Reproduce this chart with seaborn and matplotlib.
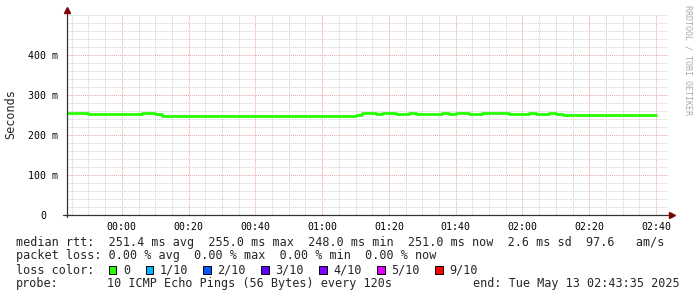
import numpy as np
import pandas as pd
import matplotlib
matplotlib.use("Agg")
import matplotlib.pyplot as plt
import seaborn as sns
from matplotlib.patches import Rectangle
from matplotlib.ticker import MultipleLocator, FixedLocator
from matplotlib.transforms import ScaledTranslation

# ---- data (minutes relative to 00:00, median rtt in ms) ----
step_start_min = [-16, -12, -10, 6, 10, 12, 70, 72, 76, 78, 82, 86, 88, 96, 98,
                  100, 104, 108, 116, 122, 124, 128, 130, 132, 160]
median_rtt_ms = [254, 255, 253, 255, 252, 248, 251, 254, 252.5, 254, 252.5, 254,
                 252.5, 254, 252.5, 254, 252.5, 254, 252.5, 254, 252.5, 254, 252.5,
                 251, 251]
x_tick_min = [0, 20, 40, 60, 80, 100, 120, 140, 160]
x_tick_labels = ["00:00", "00:20", "00:40", "01:00", "01:20", "01:40", "02:00", "02:20", "02:40"]
y_tick_ms = [0, 100, 200, 300, 400]
y_tick_labels = ["0", "100 m", "200 m", "300 m", "400 m"]
x_range = [-16.417, 163.583]
y_range = [0, 500]

loss_labels = ["0", "1/10", "2/10", "3/10", "4/10", "5/10", "9/10"]
loss_colors = ["#26ff00", "#00b8ff", "#0059ff", "#5e00ff", "#7e00ff", "#dd00ff", "#ff0000"]

line1 = "median rtt:  251.4 ms avg  255.0 ms max  248.0 ms min  251.0 ms now  2.6 ms sd  97.6   am/s"
line2 = "packet loss: 0.00 % avg  0.00 % max  0.00 % min  0.00 % now"
probe_text = "10 ICMP Echo Pings (56 Bytes) every 120s"
end_text = "end: Tue May 13 02:43:35 2025"

sns.set_style("white")
plt.rcParams['font.family'] = ['DejaVu Sans Mono', 'DejaVu Sans']

W, H = 697, 297
fig = plt.figure(figsize=(W / 100, H / 100), dpi=100)
ax = fig.add_axes([67 / W, 82 / H, 601 / W, 200 / H])

df = pd.DataFrame({"t": step_start_min, "rtt": median_rtt_ms})
sns.lineplot(data=df, x="t", y="rtt", ax=ax, drawstyle="steps-post",
             color="#26ff00", linewidth=2.0, legend=False, zorder=5)

ax.set_xlim(*x_range)
ax.set_ylim(*y_range)
ax.set_xlabel("")
ax.set_ylabel("")

ax.xaxis.set_major_locator(FixedLocator(x_tick_min))
ax.xaxis.set_minor_locator(MultipleLocator(5))
ax.set_xticklabels(x_tick_labels)
ax.yaxis.set_major_locator(FixedLocator(y_tick_ms))
ax.yaxis.set_minor_locator(MultipleLocator(20))
ax.set_yticklabels(y_tick_labels)

ax.set_axisbelow(True)
ax.grid(which="minor", color="#cfcfcf", linestyle=(0, (1, 1)), linewidth=0.7)
ax.grid(which="major", color="#eba0a0", linestyle=(0, (1, 1)), linewidth=0.7)

for s in ax.spines.values():
    s.set_visible(False)

ax.tick_params(axis="x", which="major", direction="out", length=2, width=0.7,
               color="#e08a8a", pad=3, labelsize=7.1, labelcolor="black")
ax.tick_params(axis="x", which="minor", direction="out", length=2, width=0.7,
               color="#bbbbbb")
ax.tick_params(axis="y", which="major", direction="out", length=2, width=0.7,
               color="#444444", pad=4.5, labelsize=7.1, labelcolor="black")
ax.tick_params(axis="y", which="minor", length=0)

# shift "0" label like rrdtool's right padding
lab0 = ax.get_yticklabels()[0]
lab0.set_transform(lab0.get_transform() + ScaledTranslation(-11.8 / 100, 0, fig.dpi_scale_trans))

# axis lines with arrows
ax.plot([0, 0], [-0.012, 1.02], transform=ax.transAxes, color="#333333", lw=0.9,
        clip_on=False, zorder=6)
ax.plot([-0.007, 1.004], [0, 0], transform=ax.transAxes, color="#333333", lw=0.9,
        clip_on=False, zorder=6)
ax.plot([0], [1.023], marker="^", markersize=4, color="#7f0000", transform=ax.transAxes,
        clip_on=False, zorder=7)
ax.plot([1.006], [0], marker=">", markersize=4, color="#7f0000", transform=ax.transAxes,
        clip_on=False, zorder=7)

# y unit label
fig.text(11 / W, 1 - 114 / H, "Seconds", rotation=90, ha="center", va="center",
         fontsize=8.5)

# watermark
fig.text(688 / W, 1 - 60 / H, "RRDTOOL / TOBI OETIKER", rotation=270, ha="center",
         va="center", fontsize=6, color="#aaaaaa")

# legend text
fs = 8.5
fig.text(16 / W, 1 - 245.7 / H, line1, fontsize=fs, va="baseline")
fig.text(16 / W, 1 - 259.3 / H, line2, fontsize=fs, va="baseline")
fig.text(16 / W, 1 - 273.7 / H, "loss color:", fontsize=fs, va="baseline")
fig.text(16 / W, 1 - 287.3 / H, "probe:", fontsize=fs, va="baseline")
fig.text(107.3 / W, 1 - 287.3 / H, probe_text, fontsize=fs, va="baseline")
fig.text(680 / W, 1 - 287.3 / H, end_text, fontsize=fs, va="baseline", ha="right")

box_x = [108.7, 145.7, 203.3, 261.3, 319.3, 377.3, 435.3]
for bx, lbl, col in zip(box_x, loss_labels, loss_colors):
    fig.patches.append(Rectangle((bx / W, 1 - 273.7 / H), 7.5 / W, 8 / H,
                                 transform=fig.transFigure, facecolor=col,
                                 edgecolor="black", linewidth=0.7))
    fig.text((bx + 14.3) / W, 1 - 273.7 / H, lbl, fontsize=fs, va="baseline")

fig.savefig("out.png", dpi=100, facecolor="white")
